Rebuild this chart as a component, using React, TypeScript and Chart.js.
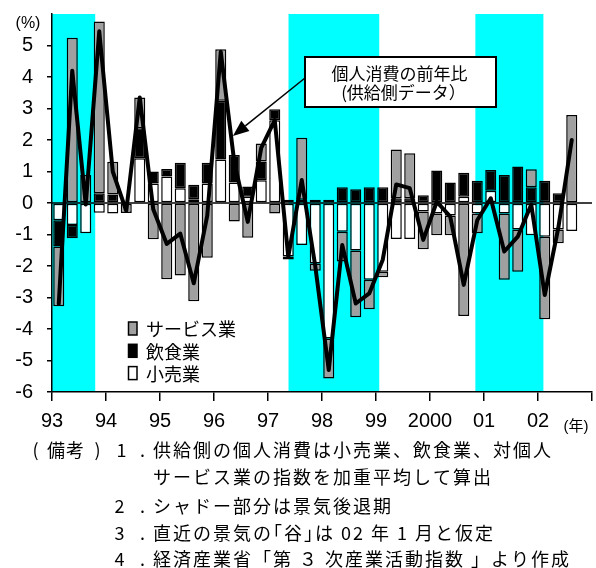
import { useEffect, useRef } from 'react';
import { Chart, registerables } from 'chart.js';

Chart.register(...registerables);

// Quarterly periods, 1993 Q1 to 2002 Q3
const quarters = [
  '93Q1', '93Q2', '93Q3', '93Q4', '94Q1', '94Q2', '94Q3', '94Q4',
  '95Q1', '95Q2', '95Q3', '95Q4', '96Q1', '96Q2', '96Q3', '96Q4',
  '97Q1', '97Q2', '97Q3', '97Q4', '98Q1', '98Q2', '98Q3', '98Q4',
  '99Q1', '99Q2', '99Q3', '99Q4', '00Q1', '00Q2', '00Q3', '00Q4',
  '01Q1', '01Q2', '01Q3', '01Q4', '02Q1', '02Q2', '02Q3',
];

// Contributions by sector (%)
const retail = [
  -0.55, -0.7, -0.96, -0.31, -0.33, 0, 1.42, 0.62,
  0.84, 0.47, 0.12, 0.62, 1.38, 0.65, 0.2, 0.72,
  2.63, -1.7, -1.33, -1.92, -4.3, -0.91, -1.51, -2.44,
  -2.18, -1.14, -1.14, -0.27, -0.33, -0.4, 0.2, -0.33,
  0.39, -0.33, -0.84, -1.02, -1.07, -0.84, -0.89,
];
const food = [
  -0.83, -0.42, 0, 0.31, 0.27, 0, 0.95, 0.38,
  0.24, 0.81, 0.46, 0.66, 1.87, 0.87, 0.32, 0.6,
  0.35, 0.1, 0.1, 0.1, 0.1, 0.5, 0.44, 0.5,
  0.5, 0.15, 0.15, 0.25, 1.03, 0.65, 0.76, 0.71,
  0.66, 0.89, 1.16, 0.5, 0.71, 0.31, 0,
];
const services = [
  -1.9, 5.25, 0.89, 5.45, 1.04, -0.32, 0.98, -1.15,
  -2.42, -2.3, -3.12, -1.74, 1.63, -0.59, -1.1, 0.57,
  -0.33, -0.09, 1.97, -0.23, -1.27, -0.95, -2.12, -0.93,
  -0.18, 1.55, 1.43, -1.2, -0.69, -0.62, -3.59, -0.63,
  0, -2.11, -1.34, 0.57, -2.62, -0.44, 2.79,
];
// Supply-side private consumption, year-on-year (%)
const consumptionYoY = [
  -3.2, 4.2, -0.05, 5.45, 1.0, -0.25, 3.35, -0.2,
  -1.3, -0.97, -2.55, -0.4, 4.8, 1.3, -0.6, 1.75,
  2.63, -1.7, 0.73, -2.0, -5.3, -1.33, -3.19, -2.87,
  -1.8, 0.59, 0.47, -1.17, 0.04, -0.43, -2.6, -0.55,
  0.15, -1.54, -1.07, -0.05, -2.92, -0.8, 2.0,
];

const yearLabels = ['93', '94', '95', '96', '97', '98', '99', '2000', '01', '02', ''];
// Recession phases (peak to trough), in fractional years
const recessions = [
  [1993.0, 1993.8],
  [1997.38, 1999.06],
  [2000.84, 2002.1],
];

const FIRST_YEAR = 1993;
const LAST_YEAR = 2003;

const quarterToX = (q: string) => {
  const yy = parseInt(q.slice(0, 2), 10);
  const year = yy >= 90 ? 1900 + yy : 2000 + yy;
  const n = parseInt(q.slice(3), 10);
  return year + (n - 0.5) / 4;
};
const xs = quarters.map(quarterToX);
const points = (vals: number[]) => vals.map((v, i) => ({ x: xs[i], y: v }));

const JP = '"Noto Sans CJK JP", "Noto Sans", sans-serif';
const LAT = '"Liberation Sans", Arial, sans-serif';

// draw text with a fixed extra spacing between glyphs
function spaced(ctx: CanvasRenderingContext2D, text: string, x: number, y: number, gap: number) {
  let cx = x;
  for (const ch of Array.from(text)) {
    ctx.fillText(ch, cx, y);
    cx += ctx.measureText(ch).width + gap;
  }
}

const noteLines = [
  { y: 450, marks: ['(', '備', '考', ')', '1', '.'], body: '供給側の個人消費は小売業、飲食業、対個人' },
  { y: 477, marks: [], body: 'サービス業の指数を加重平均して算出' },
  { y: 506, marks: ['2', '.'], body: 'シャドー部分は景気後退期' },
  { y: 533, marks: ['3', '.'], body: '直近の景気の｢谷｣は 02 年 1 月と仮定' },
  { y: 559, marks: ['4', '.'], body: '経済産業省「第 ３ 次産業活動指数 」より作成' },
];
const markCentersFull = [35.5, 56, 75, 97.5, 121.5, 142.5];
const markCentersNum = [119.5, 142.5];

const decorPlugin = {
  id: 'decor',
  beforeDatasetsDraw(chart: any) {
    const { ctx, chartArea: a, scales } = chart;
    const x = scales.x;
    const y = scales.y;
    ctx.save();
    ctx.fillStyle = '#00ffff';
    for (const [s, e] of recessions) {
      const x0 = x.getPixelForValue(s);
      const x1 = x.getPixelForValue(e);
      ctx.fillRect(x0, a.top, x1 - x0, a.bottom - a.top);
    }
    const y0 = y.getPixelForValue(0);
    ctx.strokeStyle = '#000';
    ctx.lineWidth = 1.5;
    ctx.beginPath();
    ctx.moveTo(a.left, y0);
    ctx.lineTo(a.right, y0);
    ctx.stroke();
    ctx.restore();
  },
  afterDraw(chart: any) {
    const { ctx, scales } = chart;
    const x = scales.x;
    const y = scales.y;
    ctx.save();

    // unit labels
    ctx.fillStyle = '#000';
    ctx.textAlign = 'center';
    ctx.textBaseline = 'middle';
    ctx.font = `16px ${LAT}`;
    ctx.fillText('(%)', 28, 24);
    ctx.font = `15px ${LAT}, ${JP}`;
    ctx.fillText('(年)', 576, 427);

    // callout with arrow
    const bx = 305, by = 57, bw = 191, bh = 50;
    const tipX = x.getPixelForValue(1996.35);
    const tipY = y.getPixelForValue(2.13);
    const tailX = bx, tailY = 78;
    const ang = Math.atan2(tipY - tailY, tipX - tailX);
    const headLen = 16, headHalf = 6.5;
    const baseX = tipX - headLen * Math.cos(ang);
    const baseY = tipY - headLen * Math.sin(ang);
    ctx.strokeStyle = '#000';
    ctx.lineWidth = 1.5;
    ctx.beginPath();
    ctx.moveTo(tailX, tailY);
    ctx.lineTo(baseX, baseY);
    ctx.stroke();
    ctx.fillStyle = '#000';
    ctx.beginPath();
    ctx.moveTo(tipX, tipY);
    ctx.lineTo(baseX + headHalf * Math.sin(ang), baseY - headHalf * Math.cos(ang));
    ctx.lineTo(baseX - headHalf * Math.sin(ang), baseY + headHalf * Math.cos(ang));
    ctx.closePath();
    ctx.fill();

    ctx.fillStyle = '#fff';
    ctx.fillRect(bx, by, bw, bh);
    ctx.lineWidth = 2;
    ctx.strokeRect(bx, by, bw, bh);
    ctx.fillStyle = '#000';
    ctx.font = `17px ${JP}`;
    ctx.textAlign = 'center';
    ctx.fillText('個人消費の前年比', bx + bw / 2 - 1, by + 17);
    ctx.fillText('(供給側データ）', bx + bw / 2 + 3, by + 36);

    // legend: sector bars, top to bottom in reverse stacking order
    const bars = chart.data.datasets.filter((d: any) => d.type !== 'line').slice().reverse();
    ctx.font = `18px ${JP}`;
    ctx.textAlign = 'left';
    bars.forEach((d: any, i: number) => {
      const cy = 328.5 + i * 22.3;
      ctx.fillStyle = d.backgroundColor;
      ctx.fillRect(128.5, cy - 6.5, 8.5, 13);
      ctx.strokeStyle = '#000';
      ctx.lineWidth = 1.5;
      ctx.strokeRect(128.5, cy - 6.5, 8.5, 13);
      ctx.fillStyle = '#000';
      ctx.fillText(d.label, 146, cy + 1);
    });

    // notes
    ctx.font = `18px ${JP}`;
    ctx.fillStyle = '#000';
    for (const line of noteLines) {
      const centers = line.marks.length === 6 ? markCentersFull : markCentersNum;
      ctx.textAlign = 'center';
      line.marks.forEach((m, i) => ctx.fillText(m, centers[i], line.y));
      ctx.textAlign = 'left';
      spaced(ctx, line.body, 153, line.y, 2);
    }
    ctx.restore();
  },
};

export default function App() {
  const ref = useRef<HTMLCanvasElement>(null);

  useEffect(() => {
    if (!ref.current) return;
    const barStyle = {
      type: 'bar' as const,
      stack: 'sector',
      order: 1,
      borderColor: '#000',
      borderWidth: 1.5,
      borderSkipped: false,
      barPercentage: 0.82,
      categoryPercentage: 1,
    };
    const chart = new Chart(ref.current, {
      type: 'bar',
      data: {
        datasets: [
          {
            type: 'line',
            label: '個人消費の前年比(供給側データ)',
            data: points(consumptionYoY),
            stack: 'total',
            order: 0,
            borderColor: '#000',
            borderWidth: 4,
            borderJoinStyle: 'round',
            borderCapStyle: 'round',
            pointRadius: 0,
            tension: 0,
            fill: false,
          },
          { ...barStyle, label: '小売業', data: points(retail), backgroundColor: '#ffffff' },
          { ...barStyle, label: '飲食業', data: points(food), backgroundColor: '#000000' },
          { ...barStyle, label: 'サービス業', data: points(services), backgroundColor: '#a0a0a0' },
        ] as any,
      },
      options: {
        responsive: false,
        animation: false,
        devicePixelRatio: 1,
        layout: { padding: { left: 0, right: 4, top: 14, bottom: 0 } },
        plugins: { legend: { display: false }, tooltip: { enabled: false } },
        scales: {
          x: {
            type: 'linear',
            min: FIRST_YEAR,
            max: LAST_YEAR,
            offset: false,
            ticks: {
              stepSize: 1,
              autoSkip: false,
              maxRotation: 0,
              padding: 8,
              color: '#000',
              font: { family: LAT, size: 20 },
              callback: (v: any) => yearLabels[Math.round(Number(v) - FIRST_YEAR)] ?? '',
            },
            grid: { offset: false, drawOnChartArea: false, drawTicks: true, tickLength: 9, color: '#000', lineWidth: 1.5 },
            border: { display: true, color: '#000', width: 1.5, z: 1 },
            afterFit: (s: any) => {
              s.height = 176;
              s.paddingLeft = 0;
              s.paddingRight = 0;
            },
          },
          y: {
            stacked: true,
            min: -6,
            max: 6,
            ticks: {
              stepSize: 1,
              padding: 14,
              color: '#000',
              font: { family: LAT, size: 20 },
              callback: (v: any) => (Number(v) === 6 ? '' : String(v)),
            },
            grid: {
              drawOnChartArea: false,
              drawTicks: true,
              tickLength: 5,
              lineWidth: 1.5,
              color: (c: any) => (c.tick && c.tick.value === 6 ? 'rgba(0,0,0,0)' : '#000'),
            },
            border: { display: true, color: '#000', width: 1.5, z: 1 },
            afterFit: (s: any) => {
              s.width = 52;
              s.paddingTop = 0;
              s.paddingBottom = 0;
            },
          },
        },
      } as any,
      plugins: [decorPlugin],
    });
    return () => chart.destroy();
  }, []);

  return (
    <div style={{ position: 'absolute', left: 0, top: 0, width: 596, height: 568, background: '#fff' }}>
      <canvas ref={ref} width={596} height={568} style={{ display: 'block', width: 596, height: 568 }} />
    </div>
  );
}
